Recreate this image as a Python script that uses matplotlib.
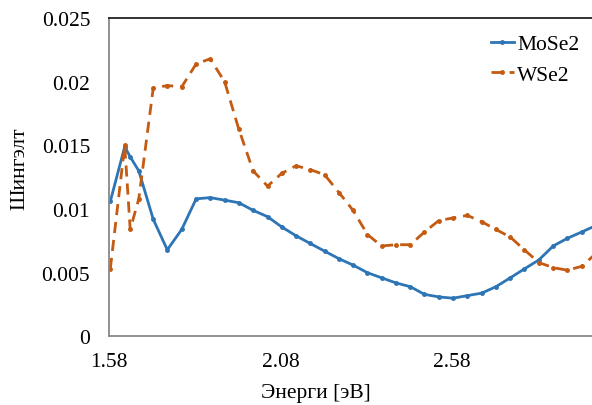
import matplotlib
matplotlib.use("Agg")
import matplotlib.pyplot as plt

# photon energy [eV]
energy = [1.584, 1.626, 1.642, 1.667, 1.709, 1.750, 1.792, 1.834, 1.875, 1.917,
          1.958, 2.000, 2.042, 2.083, 2.125, 2.166, 2.208, 2.250, 2.291, 2.333,
          2.374, 2.416, 2.458, 2.499, 2.541, 2.582, 2.624, 2.666, 2.707, 2.749,
          2.790, 2.832, 2.874, 2.915, 2.957, 2.998]

mose2 = [0.0106, 0.0149, 0.0141, 0.0130, 0.0092, 0.0068, 0.0084, 0.0108, 0.0109, 0.0107,
         0.0105, 0.0099, 0.0094, 0.0086, 0.0079, 0.0073, 0.0067, 0.0061, 0.0056, 0.0050,
         0.0046, 0.0042, 0.0039, 0.0033, 0.0031, 0.0030, 0.0032, 0.0034, 0.0039, 0.0046,
         0.0053, 0.0060, 0.0071, 0.0077, 0.0082, 0.0087]

wse2 = [0.0053, 0.0150, 0.0084, 0.0108, 0.0195, 0.0197, 0.0196, 0.0214, 0.0218, 0.0200,
        0.0163, 0.0130, 0.0118, 0.0128, 0.0134, 0.0131, 0.0127, 0.0113, 0.0099, 0.0080,
        0.0071, 0.0072, 0.0072, 0.0082, 0.0091, 0.0093, 0.0095, 0.0090, 0.0084, 0.0078,
        0.0068, 0.0058, 0.0054, 0.0052, 0.0055, 0.0065]

x_ticks = [1.58, 2.08, 2.58]
x_tick_labels = ["1.58", "2.08", "2.58"]
y_ticks = [0, 0.005, 0.01, 0.015, 0.02, 0.025]
y_tick_labels = ["0", "0.005", "0.01", "0.015", "0.02", "0.025"]

BLUE = "#2E75B6"
ORANGE = "#C55A11"
FS = 15.5

plt.rc('font', family=['Liberation Serif', 'DejaVu Serif'])
plt.rc('font', size=FS)

fig = plt.figure(figsize=(5.92, 4.06), dpi=100)
ax = fig.add_axes([0.184, 0.169, 0.816, 0.784])

ax.plot(energy, mose2, color=BLUE, linewidth=2, marker="o", markersize=2.5,
        label="MoSe2")
ax.plot(energy, wse2, color=ORANGE, linewidth=2, linestyle=(0, (4, 2.5)),
        marker="o", markersize=2.5, label="WSe2")

ax.set_xlim(1.58, 2.987)
ax.set_ylim(0, 0.025)
ax.set_xticks(x_ticks)
ax.set_xticklabels(x_tick_labels)
ax.set_yticks(y_ticks)
ax.set_yticklabels(y_tick_labels)
ax.tick_params(axis="y", length=0, pad=13.5, labelsize=FS)
ax.tick_params(axis="x", length=0, pad=11, labelsize=FS)

for side in ["left", "bottom"]:
    ax.spines[side].set_color("#888888")
    ax.spines[side].set_linewidth(1.3)
ax.spines["top"].set_color("#222222")
ax.spines["top"].set_linewidth(1.3)
ax.spines["right"].set_visible(False)

ax.set_xlabel("Энерги [эВ]", fontsize=FS)
ax.set_ylabel("Шингэлт", fontsize=FS)
ax.xaxis.set_label_coords(0.428, -0.148)
ax.yaxis.set_label_coords(-0.165, 0.53)

ax.legend(loc="upper left", bbox_to_anchor=(0.829, 0.913),
          bbox_transform=fig.transFigure, frameon=False,
          handlelength=1.07, handletextpad=0.15, labelspacing=0.48,
          fontsize=FS, borderpad=0, borderaxespad=0)

fig.savefig("out.png", dpi=100)
